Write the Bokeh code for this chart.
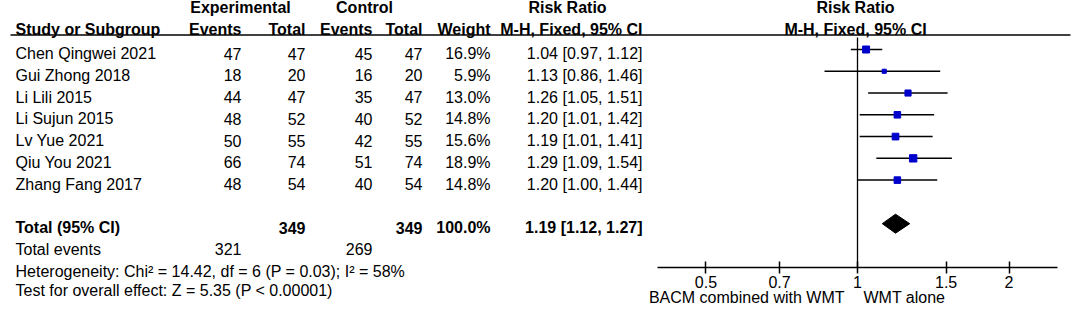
from bokeh.plotting import figure
from bokeh.models import (Range1d, ColumnDataSource, FixedTicker, CustomJSTickFormatter,
                          LogScale, LogAxis)
from bokeh.core.properties import value
from bokeh.embed import file_html
from bokeh.resources import INLINE
import math

# ---------------- data ----------------
studies = ["Chen Qingwei 2021", "Gui Zhong 2018", "Li Lili 2015", "Li Sujun 2015",
           "Lv Yue 2021", "Qiu You 2021", "Zhang Fang 2017"]
exp_events = [47, 18, 44, 48, 50, 66, 48]
exp_total = [47, 20, 47, 52, 55, 74, 54]
ctl_events = [45, 16, 35, 40, 42, 51, 40]
ctl_total = [47, 20, 47, 52, 55, 74, 54]
weights = [16.9, 5.9, 13.0, 14.8, 15.6, 18.9, 14.8]
rr = [1.04, 1.13, 1.26, 1.20, 1.19, 1.29, 1.20]
rr_lo = [0.97, 0.86, 1.05, 1.01, 1.01, 1.09, 1.00]
rr_hi = [1.12, 1.46, 1.51, 1.42, 1.41, 1.54, 1.44]

total_exp = 349
total_ctl = 349
total_weight = 100.0
total_rr = 1.19
total_lo = 1.12
total_hi = 1.27
events_exp = 321
events_ctl = 269
heterogeneity = "Heterogeneity: Chi\u00b2 = 14.42, df = 6 (P = 0.03); I\u00b2 = 58%"
overall = "Test for overall effect: Z = 5.35 (P < 0.00001)"
x_ticks = [0.5, 0.7, 1, 1.5, 2]
axis_bounds = (0.4, 2.5)
label_left = "BACM combined with WMT"
label_right = "WMT alone"

# ---------------- layout constants ----------------
FONT = value("Liberation Sans")
FS = "16px"
W, H = 1072, 309
ROW0, ROW_PX = 53.0, 21.77        # pixel centre of first study row, row pitch
FOREST_SHIFT = 4.0                # forest marks sit a little above their text row
X_ONE, PX_PER_LN = 857.0, 218.6   # pixel position of RR = 1, pixels per ln unit


def row_of(py, shift=0.0):
    return (py - (ROW0 - shift)) / ROW_PX


rows = list(range(len(studies)))
TOT_ROW = 8

p = figure(width=W, height=H, x_range=Range1d(0, W),
           y_range=Range1d(row_of(H), row_of(0)), output_backend="svg",
           toolbar_location=None, x_axis_location=None, y_axis_location=None,
           min_border=0, title=None)
p.grid.visible = False
p.outline_line_color = None
p.background_fill_color = "white"

# log-scaled range for the forest plot, shifted y-range for its marks
p.extra_x_ranges = {"rr": Range1d(math.exp((0 - X_ONE) / PX_PER_LN),
                                  math.exp((W - X_ONE) / PX_PER_LN))}
p.extra_x_scales = {"rr": LogScale()}
p.extra_y_ranges = {"f": Range1d(row_of(H, FOREST_SHIFT), row_of(0, FOREST_SHIFT))}


def txt(x, y, t, align="left", bold=False, size=FS):
    p.text(x=x, y=y, text=t, text_font=FONT, text_font_size=size,
           text_align=align, text_baseline="middle", text_color="black",
           text_font_style="bold" if bold else "normal")


# headers
H1, H2 = row_of(7), row_of(29.3)
txt([240], [H1], ["Experimental"], "center", True)
txt([364], [H1], ["Control"], "center", True)
txt([567], [H1], ["Risk Ratio"], "center", True)
txt([855], [H1], ["Risk Ratio"], "center", True)
txt([15], [H2], ["Study or Subgroup"], "left", True)
txt([241, 305, 372, 422, 490, 642], [H2] * 6,
    ["Events", "Total", "Events", "Total", "Weight", "M-H, Fixed, 95% CI"], "right", True)
txt([855], [H2], ["M-H, Fixed, 95% CI"], "center", True)
hl = row_of(34.5)
p.segment(x0=[10], x1=[1070], y0=[hl], y1=[hl], line_color="black", line_width=1.5)

# study rows
n = len(rows)
txt([15] * n, rows, studies, "left")
txt([241] * n, rows, [str(v) for v in exp_events], "right")
txt([305] * n, rows, [str(v) for v in exp_total], "right")
txt([372] * n, rows, [str(v) for v in ctl_events], "right")
txt([422] * n, rows, [str(v) for v in ctl_total], "right")
txt([490] * n, rows, [f"{w:.1f}%" for w in weights], "right")
txt([642] * n, rows, [f"{a:.2f} [{b:.2f}, {c:.2f}]" for a, b, c in zip(rr, rr_lo, rr_hi)], "right")

# totals
txt([15], [TOT_ROW], ["Total (95% CI)"], "left", True)
txt([305, 422], [TOT_ROW] * 2, [str(total_exp), str(total_ctl)], "right", True)
txt([490], [TOT_ROW], [f"{total_weight:.1f}%"], "right", True)
txt([642], [TOT_ROW], [f"{total_rr:.2f} [{total_lo:.2f}, {total_hi:.2f}]"], "right", True)
txt([15], [TOT_ROW + 1], ["Total events"], "left")
txt([241, 372], [TOT_ROW + 1] * 2, [str(events_exp), str(events_ctl)], "right")
txt([15], [TOT_ROW + 2], [heterogeneity], "left")
txt([15], [row_of(290)], [overall], "left")

# ---------------- forest plot ----------------
axis_row = row_of(267)
axis_row_f = row_of(267, FOREST_SHIFT)

# null line
p.segment(x0=[1], x1=[1], y0=[row_of(37, FOREST_SHIFT)], y1=[axis_row_f],
          x_range_name="rr", y_range_name="f", line_color="black", line_width=1.3)

src = ColumnDataSource(dict(y=rows, rr=rr, lo=rr_lo, hi=rr_hi,
                            size=[1.7 * math.sqrt(w) for w in weights]))
p.segment(x0="lo", x1="hi", y0="y", y1="y", source=src, x_range_name="rr", y_range_name="f",
          line_color="black", line_width=1.5)
p.scatter(x="rr", y="y", size="size", marker="square", source=src,
          x_range_name="rr", y_range_name="f", fill_color="#0000cc", line_color="#0000cc")

hd = 9.5 / ROW_PX
p.patch(x=[total_lo, total_rr, total_hi, total_rr],
        y=[TOT_ROW, TOT_ROW - hd, TOT_ROW, TOT_ROW + hd],
        x_range_name="rr", y_range_name="f", fill_color="black", line_color="black")

ax = LogAxis(x_range_name="rr", fixed_location=axis_row)
ax.ticker = FixedTicker(ticks=x_ticks)
ax.formatter = CustomJSTickFormatter(code="return tick.toString();")
ax.bounds = axis_bounds
ax.axis_line_width = 1.5
ax.axis_line_color = "black"
ax.major_tick_line_width = 1.5
ax.major_tick_line_color = "black"
ax.major_tick_in = 6
ax.major_tick_out = 6
ax.minor_tick_line_color = None
ax.major_label_standoff = 2
ax.major_label_text_font = "Liberation Sans"
ax.major_label_text_font_size = "16px"
ax.major_label_text_color = "black"
p.add_layout(ax, "below")

lab_row = row_of(297)
txt([844], [lab_row], [label_left], "right")
txt([863], [lab_row], [label_right], "left")

open("out.html", "w").write(file_html(p, INLINE))
